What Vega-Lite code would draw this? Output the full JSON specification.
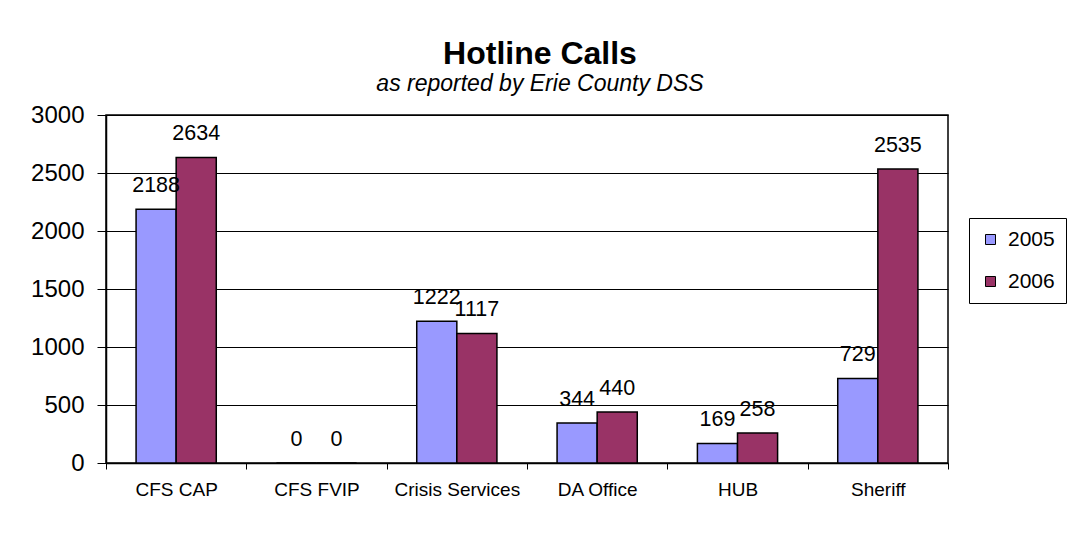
{
  "$schema": "https://vega.github.io/schema/vega-lite/v6.json",
  "width": 842,
  "height": 348,
  "autosize": {"type": "none"},
  "padding": {"left": 106, "top": 115, "right": 122, "bottom": 81},
  "background": "white",
  "title": {
    "text": "Hotline Calls",
    "subtitle": "as reported by Erie County DSS",
    "anchor": "middle",
    "frame": "group",
    "dx": 13,
    "font": "Liberation Sans",
    "fontSize": 32,
    "fontWeight": "bold",
    "color": "black",
    "subtitleFont": "Liberation Sans",
    "subtitleFontSize": 23,
    "subtitleFontStyle": "italic",
    "subtitleColor": "black",
    "subtitlePadding": 2,
    "offset": 6
  },
  "data": {
    "values": [
      {"category": "CFS CAP", "year": "2005", "calls": 2188},
      {"category": "CFS CAP", "year": "2006", "calls": 2634},
      {"category": "CFS FVIP", "year": "2005", "calls": 0},
      {"category": "CFS FVIP", "year": "2006", "calls": 0},
      {"category": "Crisis Services", "year": "2005", "calls": 1222},
      {"category": "Crisis Services", "year": "2006", "calls": 1117},
      {"category": "DA Office", "year": "2005", "calls": 344},
      {"category": "DA Office", "year": "2006", "calls": 440},
      {"category": "HUB", "year": "2005", "calls": 169},
      {"category": "HUB", "year": "2006", "calls": 258},
      {"category": "Sheriff", "year": "2005", "calls": 729},
      {"category": "Sheriff", "year": "2006", "calls": 2535}
    ]
  },
  "encoding": {
    "x": {
      "field": "category",
      "type": "nominal",
      "sort": null,
      "scale": {"paddingInner": 0, "paddingOuter": 0},
      "axis": {
        "title": null,
        "labelAngle": 0,
        "labelFont": "Liberation Sans",
        "labelFontSize": 19,
        "labelColor": "black",
        "labelPadding": 11,
        "tickBand": "extent",
        "tickSize": 6,
        "tickColor": "black",
        "domainColor": "black",
        "domainWidth": 1.5,
        "grid": false
      }
    },
    "xOffset": {
      "field": "year",
      "type": "nominal",
      "scale": {"paddingInner": 0, "paddingOuter": 0.75}
    },
    "y": {
      "field": "calls",
      "type": "quantitative",
      "scale": {"domain": [0, 3000], "nice": false},
      "axis": {
        "title": null,
        "values": [0, 500, 1000, 1500, 2000, 2500, 3000],
        "format": "d",
        "labelFont": "Liberation Sans",
        "labelFontSize": 24,
        "labelColor": "black",
        "labelPadding": 13,
        "tickSize": 9,
        "tickColor": "black",
        "domainColor": "black",
        "domainWidth": 1.5,
        "grid": true,
        "gridColor": "black",
        "gridWidth": 1
      }
    }
  },
  "layer": [
    {
      "mark": {"type": "bar", "stroke": "black", "strokeWidth": 1.5},
      "encoding": {
        "color": {
          "field": "year",
          "type": "nominal",
          "scale": {"domain": ["2005", "2006"], "range": ["#9999FF", "#993366"]},
          "legend": {
            "title": null,
            "orient": "none",
            "legendX": 863,
            "legendY": 103,
            "direction": "vertical",
            "padding": 11,
            "strokeColor": "black",
            "fillColor": "white",
            "symbolType": "square",
            "symbolSize": 100,
            "symbolStrokeColor": "black",
            "symbolStrokeWidth": 1,
            "symbolOpacity": 1,
            "labelFont": "Liberation Sans",
            "labelFontSize": 21,
            "labelColor": "black",
            "labelOffset": 7,
            "rowPadding": 20
          }
        }
      }
    },
    {
      "mark": {
        "type": "text",
        "baseline": "alphabetic",
        "dy": -17,
        "font": "Liberation Sans",
        "fontSize": 21.5,
        "color": "black"
      },
      "encoding": {
        "text": {"field": "calls", "type": "quantitative", "format": "d"}
      }
    }
  ],
  "config": {
    "view": {"stroke": "black", "strokeWidth": 1.5}
  }
}
